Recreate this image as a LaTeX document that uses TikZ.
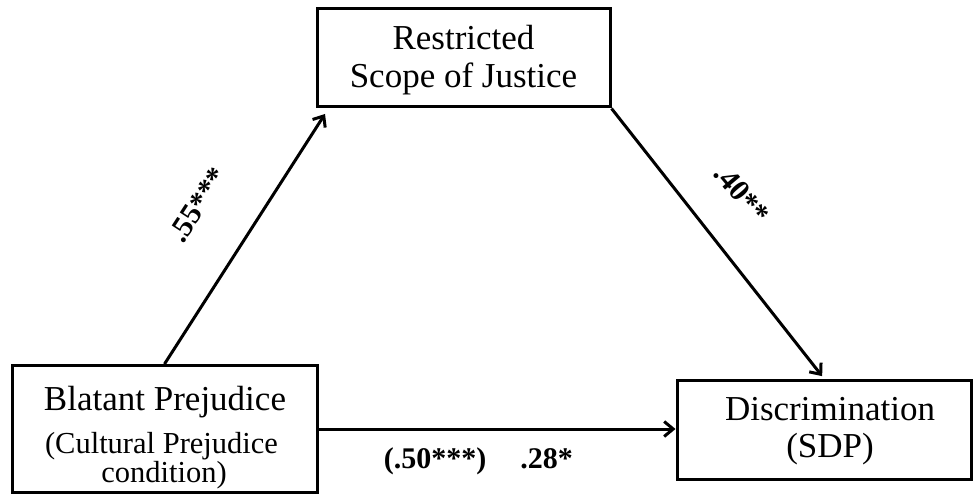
\documentclass[tikz,border=0pt]{standalone}
\usepackage{fontspec}
\setmainfont{Liberation Serif}
\usetikzlibrary{arrows.meta}
\tikzset{
  box/.style={draw, line width=3pt, inner sep=0pt},
  arr/.style={line width=3pt, -{Straight Barb[length=9pt,width=15pt]}},
  big/.style={font=\fontsize{35}{38}\selectfont, anchor=base, inner sep=0pt},
  mid/.style={font=\fontsize{30.5}{32}\selectfont, anchor=base, inner sep=0pt},
  coef/.style={font=\fontsize{30}{32}\selectfont\bfseries, inner sep=0pt},
}
\begin{document}
\begin{tikzpicture}[x=1pt,y=-1pt]
\useasboundingbox (0,0) rectangle (973,494);
\node[box, minimum width=293pt, minimum height=98pt] (R) at (463.5,58) {};
\node[box, minimum width=305pt, minimum height=127pt] (BP) at (164.5,429) {};
\node[box, minimum width=294pt, minimum height=99pt] (D) at (824,429.5) {};

\node[big] (r1) at (463.5,50) {Restricted};
\node[big] (r2) at (463.5,88) {Scope of Justice};
\node[big] (b1) at (165,410) {Blatant Prejudice};
\node[mid] (b2) at (161.5,453) {(Cultural Prejudice};
\node[mid] (b3) at (164,482) {condition)};
\node[big] (d1) at (830,420) {Discrimination};
\node[big] (d2) at (830,457) {(SDP)};

\coordinate (t1) at (325,114);
\draw[arr] (BP.north) -- (t1);
\draw[arr, shorten >=3pt] (R.south east) -- (D.north);
\draw[arr] (BP.east) -- (BP.east -| D.west);

\node[coef, rotate=57] (c1) at (198,205) {.55***};
\node[coef, rotate=-50] (c2) at (742,194) {.40**};
\node[coef, anchor=base] (c3) at (435,468) {(.50***)};
\node[coef, anchor=base] (c4) at (546.5,468) {.28*};
\end{tikzpicture}
\end{document}
